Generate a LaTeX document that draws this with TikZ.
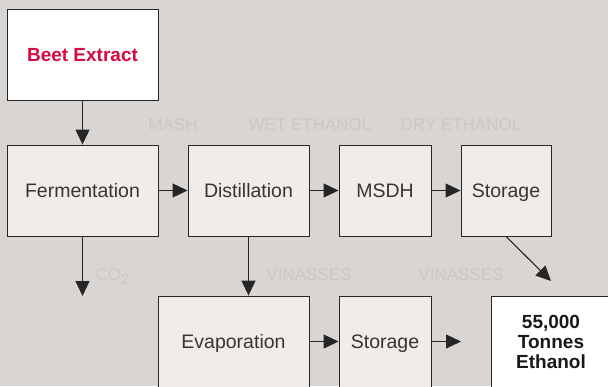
\documentclass[tikz,border=0pt]{standalone}
\usepackage{fontspec}
\setmainfont{Liberation Sans}
\usetikzlibrary{arrows.meta, positioning}
\definecolor{bggray}{RGB}{217,213,210}
\definecolor{boxfill}{RGB}{239,236,233}
\definecolor{labelgray}{RGB}{204,199,194}
\definecolor{beetred}{RGB}{214,10,64}
\definecolor{txtdark}{RGB}{55,52,50}

\begin{document}
\begin{tikzpicture}[x=1pt, y=-1pt,
  procbox/.style={draw=black!85, line width=0.9pt, fill=boxfill, text=txtdark, inner sep=0pt,
    font=\fontsize{19.5}{22}\selectfont, text height=14pt, text depth=0pt},
  endbox/.style={procbox, fill=white, font=\bfseries\fontsize{19}{20}\selectfont},
  flowlabel/.style={text=labelgray, inner sep=0pt, font=\fontsize{17}{20}\selectfont},
  flow/.style={-{Triangle[width=14pt,length=15pt]}, line width=1.1pt, draw=black!85}]
% background
\fill [bggray] (0,0) rectangle (608,386);
\useasboundingbox (0,0) rectangle (608,386);
% process boxes
\node (beet) at (82.5,54.5) [endbox, minimum width=151pt, minimum height=91pt, text=beetred] {Beet Extract};
\node (ferm) at (82.5,190.5) [procbox, minimum width=151pt, minimum height=91pt] {Fermentation};
\node (dist) at (248.5,190.5) [procbox, minimum width=121pt, minimum height=91pt] {Distillation};
\node (msdh) at (385,190.5) [procbox, minimum width=92pt, minimum height=91pt] {MSDH};
\node (stor) at (506,190.5) [procbox, minimum width=90pt, minimum height=91pt] {Storage};
\node (evap) at (233.5,341.5) [procbox, minimum width=151pt, minimum height=91pt] {Evaporation};
\node (vstor) at (385,341.5) [procbox, minimum width=92pt, minimum height=91pt] {Storage};
\node (ethanol) at (551,341.5) [endbox, minimum width=120pt, minimum height=91pt,
  text=black!90, align=center, text height=, text depth=] {55,000\\Tonnes\\Ethanol};
% stream labels
\node (mash) at (173,124.5) [flowlabel] {MASH};
\node (wet) at (310,124.5) [flowlabel] {WET ETHANOL};
\node (dry) at (461,124.5) [flowlabel] {DRY ETHANOL};
\node (co2) at (112.5,277) [flowlabel] {CO\raisebox{-4pt}{\fontsize{15}{15}\selectfont 2}};
\node (vin) at (309,275) [flowlabel] {VINASSES};
\node (vinb) at (461,275) [flowlabel] {VINASSES};
% free ends
\coordinate (co2out) at (82.5,296);
\coordinate (vinout) at (461,341.5);
\coordinate (dryout) at (551,281);
% connectors
\draw [flow] (beet) -- (ferm);
\draw [flow] (ferm) -- (dist);
\draw [flow] (dist) -- (msdh);
\draw [flow] (msdh) -- (stor);
\draw [flow] (ferm) -- (co2out);
\draw [flow] (dist.south) -- (dist.south |- evap.north);
\draw [flow] (evap) -- (vstor);
\draw [flow] (vstor) -- (vinout);
\draw [flow] (stor.south) -- (dryout);
\end{tikzpicture}
\end{document}
